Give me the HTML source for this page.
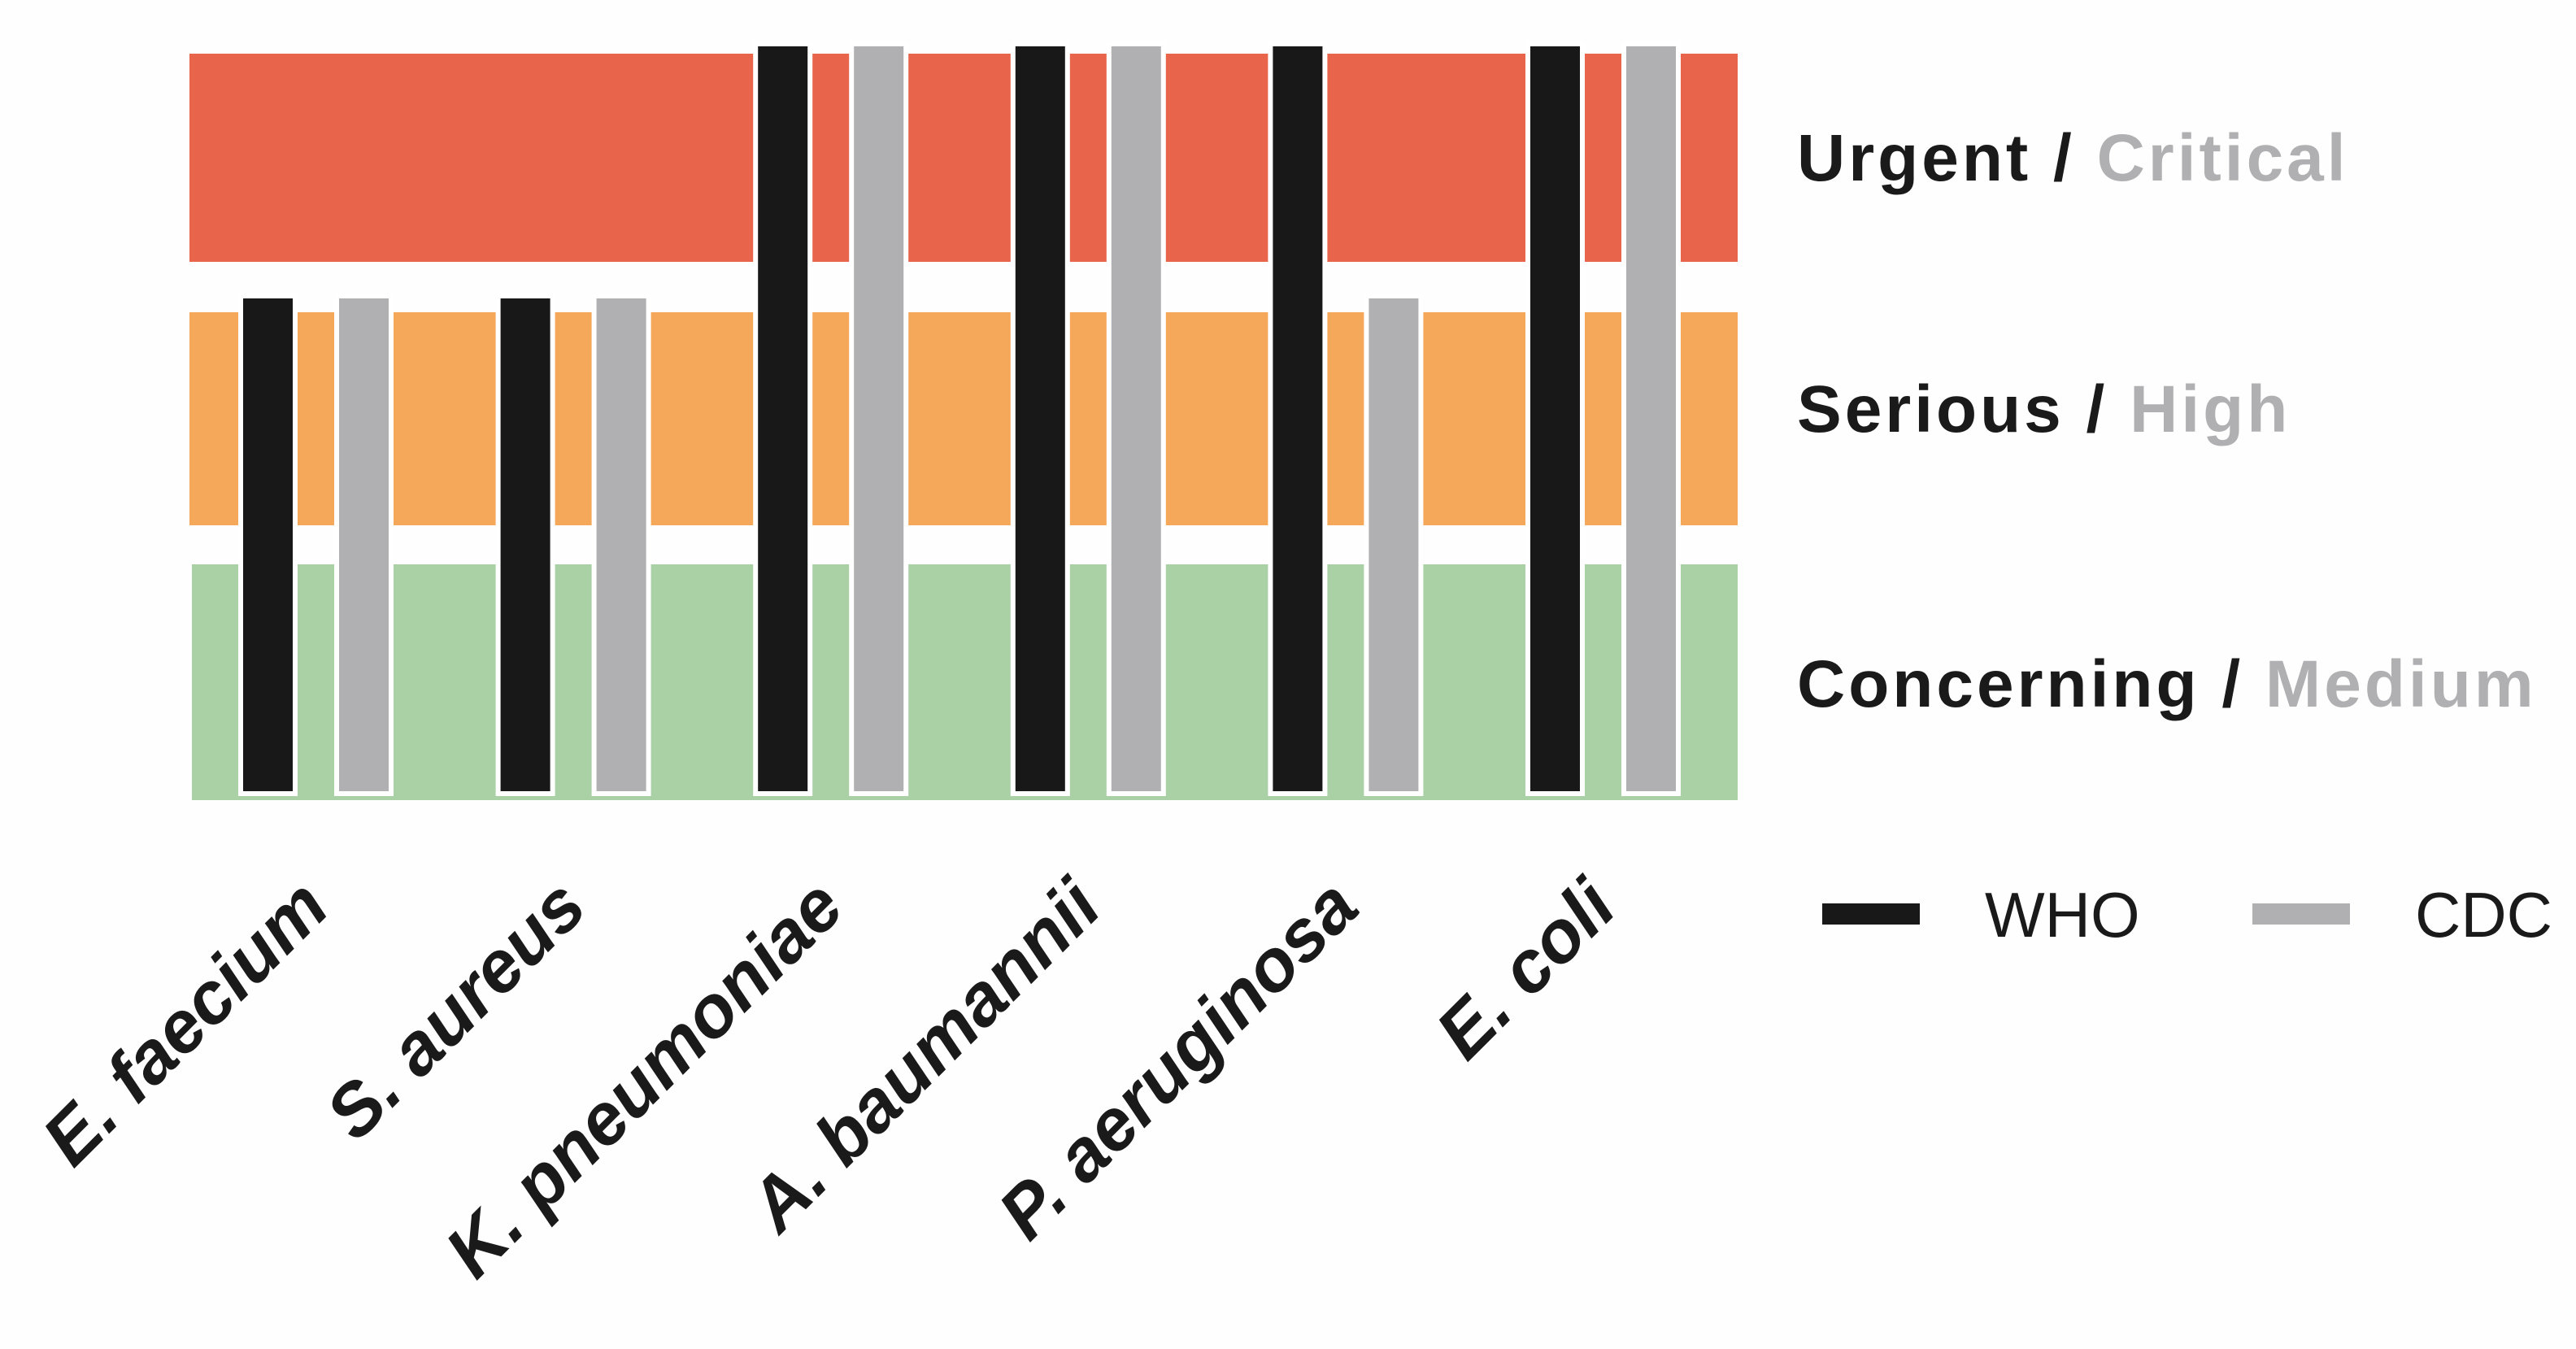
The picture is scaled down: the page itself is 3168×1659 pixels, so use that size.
<!DOCTYPE html>
<html><head><meta charset="utf-8"><style>
html,body{margin:0;padding:0;background:#fefefe;}
svg{display:block;font-family:"Liberation Sans",Arial,sans-serif;}
</style></head><body>
<svg id="chart" width="3168" height="1659" viewBox="0 0 3168 1659" xmlns="http://www.w3.org/2000/svg">
<rect x="0" y="0" width="3168" height="1659" fill="#fefefe"/>
<rect x="233" y="66" width="1904" height="256" fill="#e8644b"/>
<rect x="233" y="384" width="1904" height="262" fill="#f5a75a"/>
<rect x="236" y="694" width="1901" height="290" fill="#a9d1a5"/>
<g id="bars"></g>
<g id="xlabels"></g>
<g font-weight="bold" font-size="82" letter-spacing="4">
<text x="2210" y="222"><tspan fill="#1a1a1a">Urgent / </tspan><tspan fill="#b0b0b2">Critical</tspan></text>
<text x="2210" y="531"><tspan fill="#1a1a1a">Serious / </tspan><tspan fill="#b0b0b2">High</tspan></text>
<text x="2210" y="869"><tspan fill="#1a1a1a">Concerning / </tspan><tspan fill="#b0b0b2">Medium</tspan></text>
</g>
<g>
<rect x="2241" y="1111" width="120" height="26" fill="#181818"/>
<text x="2441" y="1152" font-size="78" fill="#1a1a1a">WHO</text>
<rect x="2770" y="1111" width="120" height="26" fill="#b0b0b2"/>
<text x="2970" y="1152" font-size="78" fill="#1a1a1a">CDC</text>
</g>
</svg>
<script>
const categories = ["E. faecium","S. aureus","K. pneumoniae","A. baumannii","P. aeruginosa","E. coli"];
const whoLevels = [2,2,3,3,3,3];
const cdcLevels = [2,2,3,3,2,3];
const NS = "http://www.w3.org/2000/svg";
const x0 = 296, groupStep = 316.6, barW = 67, grayOffset = 118;
const baseY = 976;
function yScale(v){ return 984 - v*310; }
function xGroup(i){ return x0 + i*groupStep; }
const bars = document.getElementById('bars');
function addBar(x, v, color, name){
  const r = document.createElementNS(NS,'rect');
  const top = yScale(v);
  r.setAttribute('x', x); r.setAttribute('y', top);
  r.setAttribute('width', barW); r.setAttribute('height', baseY - top);
  r.setAttribute('fill', color); r.setAttribute('stroke', '#ffffff'); r.setAttribute('stroke-width', '6');
  
  
  bars.appendChild(r);
}
categories.forEach((c,i)=>{
  addBar(xGroup(i), whoLevels[i], '#181818', 'who-bar');
  addBar(xGroup(i)+grayOffset, cdcLevels[i], '#b0b0b2', 'cdc-bar');
});
const xl = document.getElementById('xlabels');
categories.forEach((c,i)=>{
  const t = document.createElementNS(NS,'text');
  const cx = xGroup(i) + (grayOffset+barW)/2 + 20;
  const cy = 1120;
  t.setAttribute('x', cx); t.setAttribute('y', cy);
  t.setAttribute('text-anchor','end');
  t.setAttribute('font-size','90');
  t.setAttribute('font-weight','bold');
  t.setAttribute('font-style','italic');
  t.setAttribute('fill','#1a1a1a');
  t.setAttribute('transform','rotate(-45 '+cx+' '+cy+')');
  t.textContent = c;
  
  
  xl.appendChild(t);
});
</script>
</body></html>
